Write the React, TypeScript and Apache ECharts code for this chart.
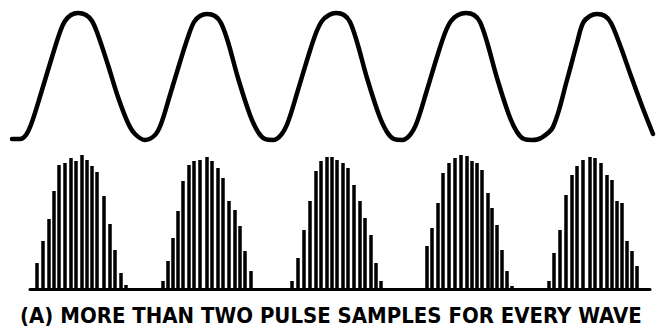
import React, { useEffect, useRef } from "react";
import * as echarts from "echarts";

// Upper analog wave, traced (x across the frame, y measured downward)
const waveX = [12, 20, 26, 32, 42, 52, 60, 65, 71, 78, 86, 92, 98, 108, 118, 128, 135, 145, 155, 161, 170, 180, 188, 194, 200, 207, 215, 221, 228, 238, 250, 258, 265, 273, 281, 288, 298, 308, 316, 322, 329, 336, 344, 350, 357, 367, 379, 387, 394, 402, 410, 417, 427, 437, 445, 451, 458, 466, 474, 480, 487, 497, 509, 517, 524, 532, 541, 553, 567, 577, 583, 590, 597, 605, 611, 620, 631, 642, 653];
const waveY = [139, 139, 135, 122, 90, 57, 32, 21, 15, 13, 15, 21, 35, 65, 97, 123, 134, 140, 135, 124, 95, 62, 37, 22, 16, 14, 16, 23, 42, 78, 115, 132, 139, 140, 135, 122, 90, 57, 33, 21, 15, 13, 15, 22, 42, 78, 115, 132, 139, 140, 135, 122, 90, 57, 33, 21, 15, 13, 15, 22, 42, 78, 115, 132, 139, 140, 138, 127, 80, 43, 23, 16, 14, 16, 23, 45, 76, 106, 134];

// Pulse samples: position and top of each pulse (baseline at 289)
const pulseX = [
  37, 43, 49, 54, 59, 65, 71, 76, 82, 87, 92, 97, 104, 110, 115, 121, 126,
  163, 168, 173, 178, 183, 189, 194, 200, 207, 212, 218, 223, 229, 235, 240, 245, 251,
  292, 298, 304, 310, 316, 321, 327, 332, 337, 343, 348, 354, 360, 365, 371, 376, 381,
  427, 432, 438, 443, 449, 455, 461, 467, 472, 477, 482, 488, 492, 497, 502, 507, 512,
  549, 554, 560, 566, 572, 577, 583, 590, 595, 601, 607, 612, 617, 622, 627, 632, 637,
];
const pulseTop = [
  263, 241, 219, 191, 165, 163, 158, 161, 155, 160, 166, 172, 196, 224, 250, 273, 285,
  281, 261, 238, 211, 181, 165, 161, 160, 157, 161, 168, 178, 201, 210, 226, 251, 271,
  281, 258, 230, 201, 171, 161, 157, 157, 160, 163, 168, 185, 201, 218, 235, 263, 281,
  246, 228, 203, 173, 163, 158, 155, 156, 161, 163, 170, 193, 208, 225, 250, 271, 286,
  281, 253, 230, 195, 175, 166, 160, 157, 158, 163, 175, 180, 201, 203, 241, 251, 266,
];
const BASELINE = 289;
const caption = "(A) MORE THAN TWO PULSE SAMPLES FOR EVERY WAVE";

export default function App() {
  const ref = useRef<HTMLDivElement>(null);
  useEffect(() => {
    const chart = echarts.init(ref.current!, null, { renderer: "svg" });
    const font = '"DejaVu Sans Condensed", "Liberation Sans Narrow", "DejaVu Sans", sans-serif';
    const ctx = document.createElement("canvas").getContext("2d")!;
    ctx.font = `bold 22px ${font}`;
    const w = ctx.measureText(caption).width || 622;
    const sx = 622 / w;
    chart.setOption({
      animation: false,
      backgroundColor: "#fff",
      grid: [
        { left: 0, right: 0, top: 0, bottom: 0 },
        { left: 30, right: 7, top: 0, bottom: 330 - BASELINE },
      ],
      xAxis: [
        { gridIndex: 0, type: "value", min: 0, max: 657, show: false },
        {
          gridIndex: 1, type: "value", min: 30, max: 650,
          axisLine: { show: true, onZero: false, lineStyle: { color: "#000", width: 3 } },
          axisTick: { show: false }, axisLabel: { show: false }, splitLine: { show: false },
        },
      ],
      yAxis: [
        { gridIndex: 0, type: "value", min: 0, max: 330, inverse: true, show: false },
        { gridIndex: 1, type: "value", min: 0, max: BASELINE, show: false },
      ],
      series: [
        {
          type: "line", xAxisIndex: 0, yAxisIndex: 0,
          data: waveX.map((x, i) => [x, waveY[i]]),
          smooth: 0.35, symbol: "none",
          lineStyle: { color: "#000", width: 4.5, cap: "round", join: "round" },
        },
        {
          type: "bar", xAxisIndex: 1, yAxisIndex: 1,
          data: pulseX.map((x, i) => [x, BASELINE - pulseTop[i]]),
          barWidth: 3.5, itemStyle: { color: "#000" },
        },
      ],
      graphic: [
        {
          type: "text", x: 20, y: 315, scaleX: sx,
          style: {
            text: caption, fill: "#000", font: `bold 22px ${font}`,
            align: "left", verticalAlign: "middle",
          },
        },
      ],
    });
    return () => chart.dispose();
  }, []);
  return (
    <div
      ref={ref}
      style={{ position: "absolute", left: 0, top: 0, width: 657, height: 330, background: "#fff" }}
    />
  );
}
